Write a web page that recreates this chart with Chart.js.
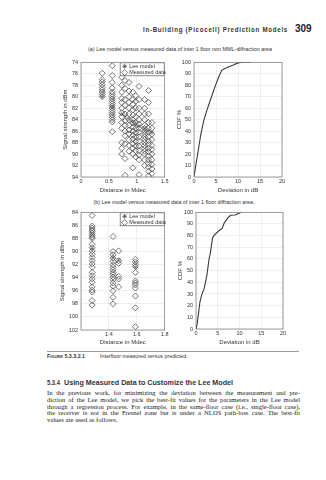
<!DOCTYPE html>
<html>
<head>
<meta charset="utf-8">
<script src="https://cdn.jsdelivr.net/npm/chart.js@4.4.0/dist/chart.umd.min.js"></script>
<style>
  html, body { margin: 0; padding: 0; background: #fff; }
  body { width: 326px; height: 480px; position: relative; overflow: hidden;
         font-family: "Liberation Sans", Arial, sans-serif; color: #222; }
  .t { position: absolute; white-space: nowrap; }
  canvas { position: absolute; }
  .body { font-family: "Liberation Serif", "Times New Roman", serif; font-size: 6.6px; line-height: 7px; color: #222; }
</style>
</head>
<body>
<div class="t fit" data-w="145" style="left:143px;top:25px;font-size:7.5px;font-weight:bold;letter-spacing:0.9px;color:#333;">In-Building (Picocell) Prediction Models</div>
<div class="t" style="left:295px;top:23px;font-size:10px;font-weight:bold;color:#222;">309</div>

<div class="t" style="left:80px;width:200px;top:46px;text-align:center;font-size:5.4px;line-height:6px;color:#333;">(a) Lee model versus measured data of inter 1 floor non MML-diffraction area</div>
<canvas id="scatA" width="110" height="138" style="left:60px;top:56px;"></canvas>
<canvas id="cdfA" width="114" height="138" style="left:174px;top:56px;"></canvas>

<div class="t" style="left:74px;width:200px;top:199px;text-align:center;font-size:5.4px;line-height:6px;color:#333;">(b) Lee model versus measured data of inter 1 floor diffraction area.</div>
<canvas id="scatB" width="113" height="140" style="left:57px;top:206px;"></canvas>
<canvas id="cdfB" width="113" height="140" style="left:175px;top:206px;"></canvas>

<div style="position:absolute;left:47px;top:351px;width:252px;height:0;border-top:0.6px solid #999;"></div>
<div class="t" style="left:47px;top:352.5px;font-size:5.3px;line-height:6px;color:#333;"><b style="font-variant:small-caps;">Figure 5.3.3.2.1</b></div>
<div class="t" style="left:100px;top:352.5px;font-size:5.3px;line-height:6px;color:#333;">Interfloor measured versus predicted.</div>

<div class="t fit" data-w="13" style="left:47px;top:378.5px;font-size:8px;line-height:8px;font-weight:bold;color:#333;">5.3.4</div>
<div class="t fit" data-w="169" style="left:64px;top:378.5px;font-size:8px;line-height:8px;font-weight:bold;color:#333;">Using Measured Data to Customize the Lee Model</div>

<div class="t body just" style="left:47px;top:389.2px;">In the previous work, for minimizing the deviation between the measurement and pre-</div>
<div class="t body just" style="left:47px;top:395.9px;">diction of the Lee model, we pick the best-fit values for the parameters in the Lee model</div>
<div class="t body just" style="left:47px;top:402.5px;">through a regression process. For example, in the same-floor case (i.e., single-floor case),</div>
<div class="t body just" style="left:47px;top:409.2px;">the receiver is not in the Fresnel zone but is under a NLOS path-loss case. The best-fit</div>
<div class="t body" style="left:47px;top:415.8px;">values are used as follows.</div>

<script>
// (a) inter 1 floor, non MML-diffraction area
const distA = [0.38, 0.56, 0.73, 0.79, 0.86, 0.93, 0.98, 1.04, 1.14, 1.21, 1.27];
const measuredA = [
  [75.9, 77.0, 77.4, 77.9, 78.4, 78.8, 79.2, 79.6, 80.0],
  [74.6, 76.3, 77.5, 78.5, 79.2, 79.6, 80.0, 80.4, 80.8, 81.2, 81.6, 82.0, 82.4, 82.8, 83.2, 83.6, 84.0, 84.4, 86.1],
  [76.6, 78.0, 79.2, 80.3, 81.0, 82.0, 82.8, 83.5, 84.5, 85.5, 88.0, 89.0, 90.0],
  [77.2, 78.6, 80.5, 81.5, 83.0, 84.2, 85.0, 86.0, 86.8, 88.2, 90.8, 93.7],
  [77.5, 79.0, 80.0, 81.0, 82.0, 83.0, 84.0, 85.0, 85.8, 86.5, 87.5, 88.5, 89.5],
  [79.2, 80.5, 81.3, 82.3, 83.2, 84.0, 84.6, 85.3, 86.0, 86.7, 87.4, 88.2, 89.0, 90.0, 92.4],
  [79.8, 80.8, 82.0, 83.5, 84.5, 85.5, 86.3, 87.0, 87.8, 88.6, 89.4, 90.5],
  [78.2, 80.5, 82.0, 83.0, 84.0, 84.8, 85.5, 86.2, 87.0, 87.8, 88.6, 89.4, 90.2, 91.0, 93.6],
  [80.5, 82.0, 83.0, 84.0, 85.0, 85.5, 86.0, 86.5, 87.0, 87.5, 88.0, 88.5, 89.0, 89.5, 90.0, 91.0, 92.0],
  [78.9, 81.0, 83.0, 84.5, 85.5, 86.2, 87.0, 87.7, 88.3, 89.0, 89.6, 90.3, 91.0, 91.7, 92.3, 93.0, 93.8],
  [84.5, 85.5, 86.5, 87.5, 88.5, 89.2, 90.0, 91.0, 91.8, 92.6, 93.4]
];
const leeA = [80.0, 81.8, 83.0, 83.4, 83.9, 84.4, 84.7, 85.1, 85.6, 86.0, 86.3];
const devA = [0, 0.4, 1.0, 1.5, 2.2, 3.0, 3.8, 4.8, 5.6, 6.3, 7.5, 8.8, 10.0, 11.0, 12.8];
const cdfA = [0, 10, 24, 36, 49, 59, 68, 79, 87, 93, 95.5, 97.5, 99.5, 100, 100];

// (b) inter 1 floor, diffraction area
const distB = [1.28, 1.43, 1.47, 1.59];
const measuredB = [
  [84.5, 86.1, 86.4, 86.7, 86.9, 87.2, 87.5, 87.8, 88.0, 88.9, 89.4, 89.9, 90.4, 90.9, 91.4, 91.9, 92.4, 93.2, 93.7, 94.2, 94.7, 95.4, 95.9, 96.2, 97.5, 98.2],
  [87.7, 90.0, 90.5, 91.0, 91.5, 92.0, 92.4, 92.8, 93.2, 93.5, 93.9, 94.3, 94.8, 95.3, 96.0, 97.0, 98.0],
  [89.9, 91.4, 91.8, 93.8, 94.2, 95.4],
  [91.2, 91.6, 92.0, 92.3, 93.2, 94.5, 94.8, 95.1, 95.6, 96.8, 98.6, 101.5]
];
const leeB = [89.6, 90.9, 91.3, 92.4];
const devB = [0, 0.3, 0.9, 1.3, 1.9, 2.5, 3.0, 3.3, 3.8, 4.1, 5.5, 6.0, 6.5, 7.5, 8.0, 9.0, 10.0, 10.3];
const cdfB = [0, 5, 23, 29, 35, 46, 60, 65, 78, 80, 85, 86, 91, 96, 97.5, 97.7, 99.4, 100];

const FONT = { family: '"Liberation Sans", Arial, sans-serif', size: 5.5 };
const TITLE_FONT = { family: '"Liberation Sans", Arial, sans-serif', size: 6 };
const INK = '#333';
const GRID = '#e4e4e4';

// box around the plot + legend inside the top right corner (MATLAB look)
const framePlugin = {
  id: 'frame',
  afterDatasetsDraw(chart, args, opts) {
    const { ctx, chartArea: a } = chart;
    ctx.save();
    ctx.strokeStyle = '#777';
    ctx.lineWidth = 0.7;
    ctx.strokeRect(a.left, a.top, a.right - a.left, a.bottom - a.top);
    if (opts.legend) {
      const w = 45, h = 14;
      const x0 = a.right - w, y0 = a.top;
      ctx.fillStyle = '#fff';
      ctx.fillRect(x0, y0, w, h);
      ctx.strokeStyle = '#555';
      ctx.strokeRect(x0 + 0.5, y0 + 0.5, w - 1, h - 1);
      ctx.font = '5.5px "Liberation Sans", Arial, sans-serif';
      ctx.textBaseline = 'middle';
      chart.data.datasets.filter(d => d.label).forEach((d, i) => {
        const cx = x0 + 5, cy = y0 + 4 + i * 6.3;
        ctx.strokeStyle = '#444';
        ctx.lineWidth = 0.7;
        ctx.beginPath();
        if (d.pointStyle === 'star') {
          for (let k = 0; k < 4; k++) {
            const ang = k * Math.PI / 4;
            ctx.moveTo(cx - 2.4 * Math.cos(ang), cy - 2.4 * Math.sin(ang));
            ctx.lineTo(cx + 2.4 * Math.cos(ang), cy + 2.4 * Math.sin(ang));
          }
        } else {
          ctx.moveTo(cx, cy - 3); ctx.lineTo(cx + 3, cy);
          ctx.lineTo(cx, cy + 3); ctx.lineTo(cx - 3, cy); ctx.closePath();
        }
        ctx.stroke();
        ctx.fillStyle = INK;
        ctx.fillText(d.label, x0 + 9.5, cy + 0.3);
      });
    }
    ctx.restore();
  }
};

function points(xs, cols) {
  const out = [];
  xs.forEach((x, i) => cols[i].forEach(y => out.push({ x: x, y: y })));
  return out;
}

function axes(o) {
  return {
    x: {
      type: 'linear', min: o.xMin, max: o.xMax,
      ticks: { stepSize: o.xStep, autoSkip: false, maxRotation: 0, padding: 1.5, color: INK, font: FONT,
               callback: o.xCb || (v => String(v)) },
      grid: { color: GRID, lineWidth: 0.6, drawTicks: false },
      border: { display: false },
      title: { display: true, text: o.xTitle, color: INK, font: TITLE_FONT, padding: 0 },
      afterFit: s => { s.height = o.xH; }
    },
    y: {
      type: 'linear', min: o.yMin, max: o.yMax, reverse: !!o.yRev,
      ticks: { stepSize: o.yStep, autoSkip: false, padding: 3, color: INK, font: FONT },
      grid: { color: GRID, lineWidth: 0.6, drawTicks: false },
      border: { display: false },
      title: { display: true, text: o.yTitle, color: INK, font: TITLE_FONT, padding: { top: 2, bottom: 0 } },
      afterFit: s => { s.width = o.yW; }
    }
  };
}

function baseOptions(scales, pad, legend) {
  return {
    responsive: false, animation: false, devicePixelRatio: 1, events: [],
    layout: { padding: pad },
    plugins: { legend: { display: false }, tooltip: { enabled: false }, frame: { legend: legend } },
    scales: scales
  };
}

function scatterChart(id, xs, measured, lee, o, pad) {
  return new Chart(document.getElementById(id), {
    type: 'scatter',
    data: {
      datasets: [
        { label: 'Lee model', data: xs.map((x, i) => ({ x: x, y: lee[i] })), order: 1,
          pointStyle: 'star', pointRadius: 2.2, borderColor: '#777', borderWidth: 0.6, backgroundColor: 'transparent' },
        { label: 'Measured data', data: points(xs, measured), order: 0,
          pointStyle: 'rectRot', pointRadius: 3, borderColor: '#555', borderWidth: 0.8, backgroundColor: 'transparent' }
      ]
    },
    options: baseOptions(axes(o), pad, true),
    plugins: [framePlugin]
  });
}

function cdfChart(id, dev, cdf, o, pad) {
  return new Chart(document.getElementById(id), {
    type: 'scatter',
    data: {
      datasets: [{ data: dev.map((d, i) => ({ x: d, y: cdf[i] })), showLine: true, pointRadius: 0,
                   borderColor: '#3a3a3a', borderWidth: 1.1, fill: false }]
    },
    options: baseOptions(axes(o), pad, false),
    plugins: [framePlugin]
  });
}

scatterChart('scatA', distA, measuredA, leeA,
  { xMin: 0, xMax: 1.5, xStep: 0.5, yMin: 74, yMax: 94, yStep: 2, yRev: true,
    xTitle: 'Distance in Mdec', yTitle: 'Signal strength in dBm', xH: 17, yW: 21 },
  { top: 5, right: 4, bottom: 0, left: 0 });

cdfChart('cdfA', devA, cdfA,
  { xMin: 0, xMax: 20, xStep: 5, yMin: 0, yMax: 100, yStep: 10,
    xTitle: 'Deviation in dB', yTitle: 'CDF %', xH: 17, yW: 20 },
  { top: 5, right: 6, bottom: 0, left: 0 });

scatterChart('scatB', distB, measuredB, leeB,
  { xMin: 1.2, xMax: 1.8, xStep: 0.2, yMin: 84, yMax: 102, yStep: 2, yRev: true,
    xCb: v => (v < 1.3 ? '' : v.toFixed(1)),
    xTitle: 'Distance in Mdec', yTitle: 'Signal strength in dBm', xH: 16, yW: 24 },
  { top: 5, right: 4, bottom: 0, left: 0 });

cdfChart('cdfB', devB, cdfB,
  { xMin: 0, xMax: 20, xStep: 5, yMin: 0, yMax: 100, yStep: 10,
    xTitle: 'Deviation in dB', yTitle: 'CDF %', xH: 17, yW: 21 },
  { top: 5, right: 5, bottom: 0, left: 0 });

// squeeze the condensed headings to their printed width
document.querySelectorAll('.fit').forEach(el => {
  const w = el.getBoundingClientRect().width;
  el.style.transformOrigin = 'left center';
  el.style.transform = 'scaleX(' + (Number(el.dataset.w) / w) + ')';
});

// justify the body lines to the text block width
document.querySelectorAll('.just').forEach(el => {
  const w = el.getBoundingClientRect().width;
  const gaps = el.textContent.split(' ').length - 1;
  el.style.wordSpacing = ((253 - w) / gaps) + 'px';
});
</script>
</body>
</html>
